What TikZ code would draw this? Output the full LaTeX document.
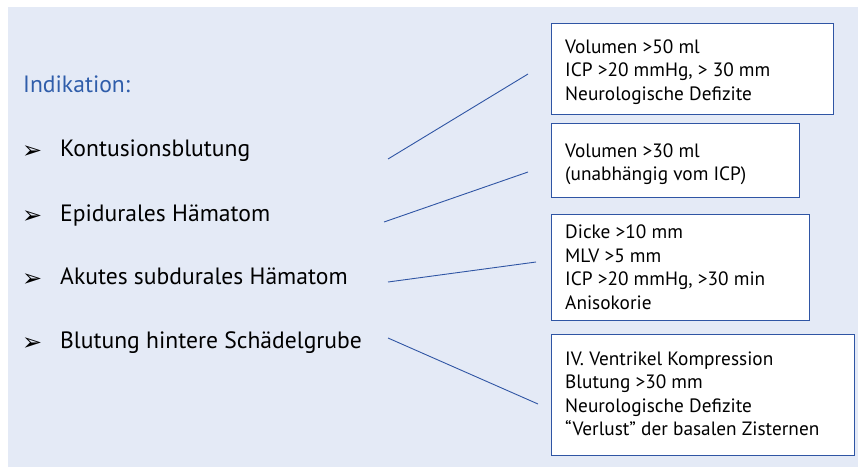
\documentclass[tikz,border=0pt]{standalone}
\usepackage{fontspec}
\setmainfont{PT Sans}
\newfontfamily\symfont{DejaVu Sans}
\definecolor{bgpanel}{HTML}{E4EAF6}
\definecolor{boxblue}{HTML}{2F55A4}
\definecolor{headblue}{HTML}{2F5DAA}
\begin{document}
\begin{tikzpicture}[x=1pt,y=-1pt,
  panelbox/.style={draw=boxblue,line width=1pt,fill=white,rectangle,inner sep=0pt,anchor=north west},
  boxtext/.style={anchor=base west,inner sep=0pt,font=\fontsize{19.3}{23.5}\selectfont},
  listtext/.style={anchor=base west,inner sep=0pt,font=\fontsize{23.6}{27}\selectfont},
  bullet/.style={anchor=base west,inner sep=0pt,font=\symfont\fontsize{24}{26}\selectfont},
  conn/.style={draw=boxblue,line width=0.9pt}]
\useasboundingbox (0,0) rectangle (858,467);
\fill[bgpanel] (8,7) rectangle (858,467);
% heading
\node[listtext,text=headblue] (head) at (23,92) {Indikation:};
% list
\node[bullet] (b1) at (22,158) {➢};
\node[listtext] (k) at (60,156) {Kontusionsblutung};
\node[bullet] (b2) at (22,223) {➢};
\node[listtext] (e) at (60,221) {Epidurales Hämatom};
\node[bullet] (b3) at (22,286) {➢};
\node[listtext] (a) at (60,284) {Akutes subdurales Hämatom};
\node[bullet] (b4) at (22,350) {➢};
\node[listtext] (s) at (60,348) {Blutung hintere Schädelgrube};
% boxes
\node[panelbox,minimum width=282pt,minimum height=91pt] (bx1) at (551,23) {};
\node[panelbox,minimum width=248pt,minimum height=74pt] (bx2) at (551,123) {};
\node[panelbox,minimum width=258pt,minimum height=106pt] (bx3) at (551,214) {};
\node[panelbox,minimum width=303pt,minimum height=121pt] (bx4) at (551,334) {};
% box texts
\node[boxtext] (t1) at (565,53) {\begin{tabular}[t]{@{}l@{}}Volumen >50 ml\\ICP >20 mmHg, > 30 mm\\Neurologische Defizite\end{tabular}};
\node[boxtext] (t2) at (565,157) {\begin{tabular}[t]{@{}l@{}}Volumen >30 ml\\(unabhängig vom ICP)\end{tabular}};
\node[boxtext] (t3) at (565,238.5) {\begin{tabular}[t]{@{}l@{}}Dicke >10 mm\\MLV >5 mm\\ICP >20 mmHg, >30 min\\Anisokorie\end{tabular}};
\node[boxtext] (t4) at (565,365) {\begin{tabular}[t]{@{}l@{}}IV. Ventrikel Kompression\\Blutung >30 mm\\Neurologische Defizite\\“Verlust” der basalen Zisternen\end{tabular}};
% connector ends
\coordinate (c1a) at (388,159); \coordinate (c1b) at (528,74);
\coordinate (c2a) at (384,222); \coordinate (c2b) at (528,172);
\coordinate (c3a) at (388,282); \coordinate (c3b) at (536,262);
\coordinate (c4a) at (388,338); \coordinate (c4b) at (538,404);
\draw[conn] (c1a) -- (c1b);
\draw[conn] (c2a) -- (c2b);
\draw[conn] (c3a) -- (c3b);
\draw[conn] (c4a) -- (c4b);
\end{tikzpicture}
\end{document}
